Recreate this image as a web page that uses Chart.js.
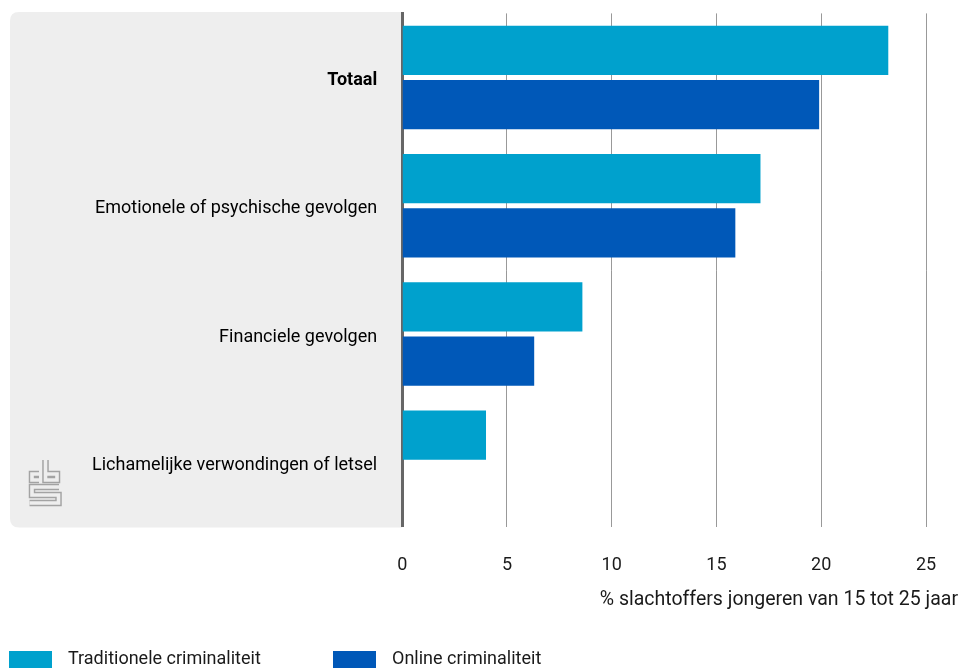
<!DOCTYPE html>
<html>
<head>
<meta charset="utf-8">
<script src="https://cdn.jsdelivr.net/npm/chart.js@4/dist/chart.umd.min.js"></script>
<style>
  html, body { margin: 0; padding: 0; overflow: hidden; background: #ffffff; }
  #wrap { position: absolute; left: 0; top: 0; width: 961px; height: 668px; }
  .lg { position: absolute; top: 651px; height: 20px; font: 18px Roboto, sans-serif; color: #1a1a1a; white-space: nowrap; }
  .lg .sw { position: absolute; left: 0; top: 0; width: 43px; height: 20px; }
  .lg .tx { position: absolute; top: -3px; line-height: 20px; }
</style>
</head>
<body>
<div id="wrap"><canvas id="c"></canvas></div>
<div id="legend"></div>
<script>
const categories = ['Totaal', 'Emotionele of psychische gevolgen', 'Financiele gevolgen', 'Lichamelijke verwondingen of letsel'];
const traditioneel = [23.2, 17.1, 8.6, 4.0];
const online = [19.9, 15.9, 6.3, null];
const seriesNames = ['Traditionele criminaliteit', 'Online criminaliteit'];
const seriesColors = ['#00a1cd', '#0058b8'];
const xTicks = [0, 5, 10, 15, 20, 25];
const xTitle = '% slachtoffers jongeren van 15 tot 25 jaar';

const FONT = 'Roboto';
const FS = 18;
const TEXT = '#1a1a1a';

const panelPlugin = {
  id: 'panel',
  beforeDraw(chart) {
    const ctx = chart.ctx;
    const a = chart.chartArea;
    const x0 = 10, y0 = 12, x1 = a.left, y1 = a.bottom + 1, r = 9;
    ctx.save();
    ctx.fillStyle = '#eeeeee';
    ctx.beginPath();
    ctx.moveTo(x1, y0);
    ctx.lineTo(x0 + r, y0);
    ctx.quadraticCurveTo(x0, y0, x0, y0 + r);
    ctx.lineTo(x0, y1 - r);
    ctx.quadraticCurveTo(x0, y1, x0 + r, y1);
    ctx.lineTo(x1, y1);
    ctx.closePath();
    ctx.fill();
    // cbs logo (outline style)
    const paths = [
      [[39, 474], [32, 474], [32, 480], [39, 480]],
      [[45.5, 460], [45.5, 480], [57, 480], [57, 474], [45.5, 474]],
      [[59, 487], [32, 487], [32, 495], [58.5, 495], [58.5, 503], [29.5, 503]]
    ];
    ctx.lineJoin = 'miter';
    ctx.lineCap = 'butt';
    for (const [w, col] of [[6.5, '#a3a3a3'], [3.6, '#eeeeee']]) {
      ctx.strokeStyle = col;
      ctx.lineWidth = w;
      for (const p of paths) {
        ctx.beginPath();
        ctx.moveTo(p[0][0], p[0][1]);
        for (let i = 1; i < p.length; i++) ctx.lineTo(p[i][0], p[i][1]);
        ctx.stroke();
      }
    }
    ctx.restore();
  },
  afterDraw(chart) {
    const ctx = chart.ctx;
    ctx.save();
    ctx.font = '19.5px ' + FONT;
    ctx.fillStyle = TEXT;
    ctx.textAlign = 'right';
    ctx.textBaseline = 'middle';
    ctx.fillText(xTitle, 958, 600);
    ctx.restore();
  }
};

// HTML legend built from the series arrays
const legendPos = [9, 333];
const legendEl = document.getElementById('legend');
seriesNames.forEach((name, i) => {
  const d = document.createElement('div');
  d.className = 'lg';
  d.style.left = legendPos[i] + 'px';
  const sw = document.createElement('span');
  sw.className = 'sw';
  sw.style.background = seriesColors[i];
  const tx = document.createElement('span');
  tx.className = 'tx';
  tx.style.left = '59px';
  tx.textContent = name;
  d.appendChild(sw);
  d.appendChild(tx);
  legendEl.appendChild(d);
});

new Chart(document.getElementById('c'), {
  type: 'bar',
  data: {
    labels: categories,
    datasets: [
      { label: seriesNames[0], data: traditioneel, backgroundColor: seriesColors[0], borderWidth: 0 },
      { label: seriesNames[1], data: online, backgroundColor: seriesColors[1], borderWidth: 0 }
    ]
  },
  options: {
    indexAxis: 'y',
    responsive: true,
    maintainAspectRatio: false,
    animation: false,
    devicePixelRatio: 1,
    datasets: { bar: { barPercentage: 0.908, categoryPercentage: 0.846 } },
    layout: { padding: { top: 13.4, right: 35, left: 0, bottom: 0 } },
    plugins: {
      tooltip: { enabled: false },
      legend: { display: false }
    },
    scales: {
      x: {
        type: 'linear',
        min: 0,
        max: 25,
        afterFit(s) { s.height = 141.5; s.paddingLeft = 0; s.paddingRight = 0; },
        afterBuildTicks(s) { s.ticks = xTicks.map(v => ({ value: v })); },
        grid: { color: '#999999', lineWidth: 1, drawTicks: false },
        border: { display: false },
        ticks: { padding: 28, color: TEXT, font: { family: FONT, size: FS } }
      },
      y: {
        afterFit(s) { s.width = 402.2; s.paddingTop = 0; s.paddingBottom = 0; },
        grid: { display: false, drawTicks: false },
        border: { display: true, color: '#666666', width: 3 },
        ticks: {
          padding: 25,
          labelOffset: 3,
          color: '#000000',
          font: (c) => ({ family: FONT, size: FS, weight: c.index === 0 ? 'bold' : 'normal' })
        }
      }
    }
  },
  plugins: [panelPlugin]
});
</script>
</body>
</html>
